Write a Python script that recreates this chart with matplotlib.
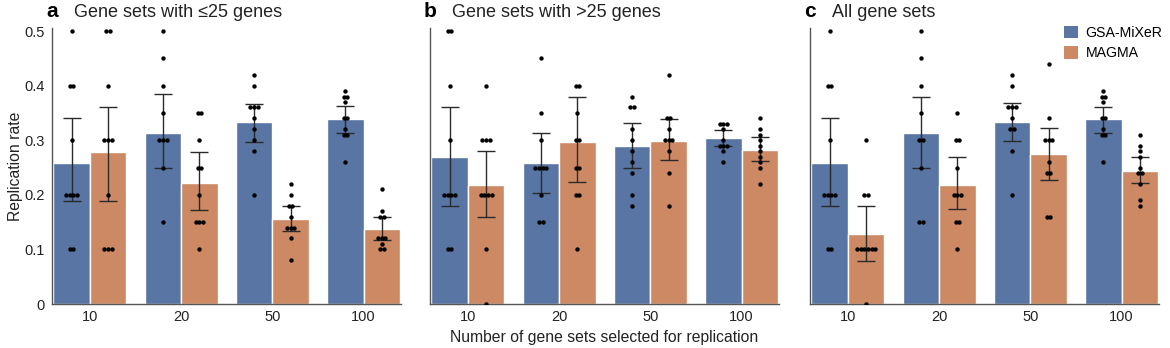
import matplotlib
matplotlib.use("Agg")
import matplotlib.pyplot as plt
from matplotlib.patches import Patch
import numpy as np

plt.rcParams["font.family"] = ["Liberation Sans", "DejaVu Sans"]

# ---- data -------------------------------------------------------------
n_selected = ["10", "20", "50", "100"]
methods = ["GSA-MiXeR", "MAGMA"]
panel_letters = ["a", "b", "c"]
panel_titles = ["Gene sets with \u226425 genes", "Gene sets with >25 genes", "All gene sets"]

# mean replication rate per method
small_mixer_rate = [0.258, 0.313, 0.334, 0.338]
small_magma_rate = [0.278, 0.222, 0.155, 0.137]
large_mixer_rate = [0.269, 0.258, 0.290, 0.304]
large_magma_rate = [0.218, 0.297, 0.298, 0.282]
all_mixer_rate = [0.258, 0.313, 0.334, 0.338]
all_magma_rate = [0.128, 0.218, 0.274, 0.244]

# 95% confidence intervals (low, high)
small_mixer_ci = [(0.189, 0.340), (0.249, 0.385), (0.297, 0.367), (0.313, 0.363)]
small_magma_ci = [(0.189, 0.360), (0.173, 0.279), (0.133, 0.179), (0.118, 0.160)]
large_mixer_ci = [(0.180, 0.360), (0.204, 0.314), (0.249, 0.332), (0.289, 0.319)]
large_magma_ci = [(0.160, 0.280), (0.224, 0.380), (0.264, 0.338), (0.262, 0.305)]
all_mixer_ci = [(0.179, 0.340), (0.250, 0.380), (0.298, 0.369), (0.314, 0.361)]
all_magma_ci = [(0.079, 0.179), (0.174, 0.270), (0.227, 0.323), (0.222, 0.269)]

# replication rates of the individual runs
small_mixer_pts = [
    [0.5, 0.4, 0.4, 0.3, 0.2, 0.2, 0.2, 0.2, 0.1, 0.1],
    [0.5, 0.45, 0.4, 0.35, 0.3, 0.3, 0.3, 0.25, 0.15],
    [0.42, 0.40, 0.36, 0.36, 0.36, 0.34, 0.32, 0.30, 0.28, 0.20],
    [0.39, 0.38, 0.38, 0.37, 0.34, 0.34, 0.32, 0.31, 0.31, 0.26],
]
small_magma_pts = [
    [0.5, 0.5, 0.4, 0.3, 0.3, 0.3, 0.2, 0.1, 0.1, 0.1],
    [0.35, 0.35, 0.3, 0.25, 0.25, 0.2, 0.15, 0.15, 0.15, 0.1],
    [0.22, 0.20, 0.18, 0.18, 0.16, 0.14, 0.14, 0.14, 0.12, 0.08],
    [0.21, 0.17, 0.16, 0.16, 0.12, 0.12, 0.12, 0.11, 0.10, 0.10],
]
large_mixer_pts = [
    [0.5, 0.5, 0.4, 0.3, 0.2, 0.2, 0.2, 0.2, 0.1, 0.1],
    [0.45, 0.35, 0.3, 0.25, 0.25, 0.25, 0.25, 0.2, 0.15, 0.15],
    [0.38, 0.36, 0.36, 0.32, 0.30, 0.28, 0.26, 0.24, 0.20, 0.18],
    [0.33, 0.33, 0.33, 0.32, 0.30, 0.29, 0.29, 0.29, 0.28, 0.26],
]
large_magma_pts = [
    [0.4, 0.3, 0.3, 0.3, 0.2, 0.2, 0.2, 0.2, 0.1, 0.0],
    [0.4, 0.4, 0.35, 0.3, 0.3, 0.25, 0.25, 0.2, 0.2, 0.1],
    [0.42, 0.34, 0.34, 0.32, 0.30, 0.30, 0.30, 0.28, 0.24, 0.18],
    [0.34, 0.32, 0.31, 0.30, 0.29, 0.28, 0.27, 0.26, 0.25, 0.22],
]
all_mixer_pts = [
    [0.5, 0.4, 0.4, 0.3, 0.2, 0.2, 0.2, 0.2, 0.1, 0.1],
    [0.5, 0.45, 0.4, 0.35, 0.3, 0.3, 0.25, 0.15, 0.15],
    [0.42, 0.40, 0.36, 0.36, 0.36, 0.34, 0.32, 0.32, 0.28, 0.20],
    [0.39, 0.38, 0.38, 0.37, 0.34, 0.34, 0.32, 0.31, 0.31, 0.26],
]
all_magma_pts = [
    [0.3, 0.2, 0.2, 0.1, 0.1, 0.1, 0.1, 0.1, 0.1, 0.0],
    [0.35, 0.3, 0.3, 0.25, 0.2, 0.2, 0.2, 0.15, 0.15, 0.1],
    [0.44, 0.34, 0.30, 0.30, 0.30, 0.26, 0.24, 0.24, 0.16, 0.16],
    [0.31, 0.29, 0.28, 0.27, 0.25, 0.24, 0.24, 0.22, 0.19, 0.18],
]

panels = [
    (small_mixer_rate, small_magma_rate, small_mixer_ci, small_magma_ci, small_mixer_pts, small_magma_pts),
    (large_mixer_rate, large_magma_rate, large_mixer_ci, large_magma_ci, large_mixer_pts, large_magma_pts),
    (all_mixer_rate, all_magma_rate, all_mixer_ci, all_magma_ci, all_mixer_pts, all_magma_pts),
]

# ---- style ------------------------------------------------------------
colors = ["#5875a3", "#cc8963"]
spine_color = "#555555"
err_color = "#2b2b2b"
text_color = "#222222"
bar_w = 0.4


def spread(values, center, step=0.04):
    """Place equal values side by side around the bar centre."""
    values = np.asarray(values, dtype=float)
    xs = np.full(len(values), center, dtype=float)
    for v in np.unique(values):
        idx = np.where(np.isclose(values, v))[0]
        k = len(idx)
        xs[idx] = center + (np.arange(k) - (k - 1) / 2) * step
    return xs


fig = plt.figure(figsize=(11.7, 3.48), dpi=100)
lefts = [52 / 1170, 430 / 1170, 810 / 1170]
ax_w = 349 / 1170
ax_b = 1 - 304 / 348
ax_h = (304 - 28.3) / 348

x = np.arange(len(n_selected))
for p, (left, data) in enumerate(zip(lefts, panels)):
    ax = fig.add_axes([left, ax_b, ax_w, ax_h])
    rates = data[0:2]
    cis = data[2:4]
    pts = data[4:6]
    for m in range(2):
        xm = x + (m - 0.5) * bar_w
        ax.bar(xm, rates[m], width=bar_w, color=colors[m], edgecolor="white",
               linewidth=1.0, zorder=1, label=methods[m])
        lo = np.array([c[0] for c in cis[m]])
        hi = np.array([c[1] for c in cis[m]])
        mean = np.array(rates[m])
        ax.errorbar(xm, mean, yerr=[mean - lo, hi - mean], fmt="none",
                    ecolor=err_color, elinewidth=1.0, capsize=6.5,
                    capthick=1.0, zorder=2)
        for g in range(len(n_selected)):
            ax.scatter(spread(pts[m][g], xm[g]), pts[m][g], s=10, color="black",
                       linewidths=0, zorder=3)

    ax.set_xlim(-0.415, 3.41)
    ax.set_ylim(0, 0.505)
    ax.set_xticks(x)
    ax.set_xticklabels(n_selected, fontsize=10.5, color=text_color)
    ax.tick_params(axis="both", length=0)
    ax.tick_params(axis="x", pad=4.5)
    ax.spines[["top", "right"]].set_visible(False)
    for s in ["left", "bottom"]:
        ax.spines[s].set_color(spine_color)
        ax.spines[s].set_linewidth(1.0)
    if p == 0:
        ax.set_yticks([0, 0.1, 0.2, 0.3, 0.4, 0.5])
        ax.set_yticklabels(["0", "0.1", "0.2", "0.3", "0.4", "0.5"],
                           fontsize=10.5, color=text_color)
        ax.tick_params(axis="y", pad=5)
        ax.set_ylabel("Replication rate", fontsize=11.3, color=text_color, labelpad=1)
    else:
        ax.set_yticks([])
    if p == 1:
        ax.set_xlabel("Number of gene sets selected for replication",
                      fontsize=11.3, color=text_color, labelpad=4)
    ax.text(0.0, 1.028, panel_letters[p], transform=ax.transAxes,
            fontsize=15, fontweight="bold", ha="center", va="bottom")
    ax.text(0.062, 1.028, panel_titles[p], transform=ax.transAxes,
            fontsize=13, ha="left", va="bottom", color=text_color)
    if p == 2:
        handles = [Patch(facecolor=c, edgecolor="none") for c in colors]
        ax.legend(handles, methods, loc="upper right", bbox_to_anchor=(1.01, 1.008),
                  frameon=False, fontsize=10.2, handlelength=0.95, handleheight=0.95,
                  handletextpad=0.55, labelspacing=0.45, borderpad=0,
                  borderaxespad=0)

fig.savefig("out.png", dpi=100)
